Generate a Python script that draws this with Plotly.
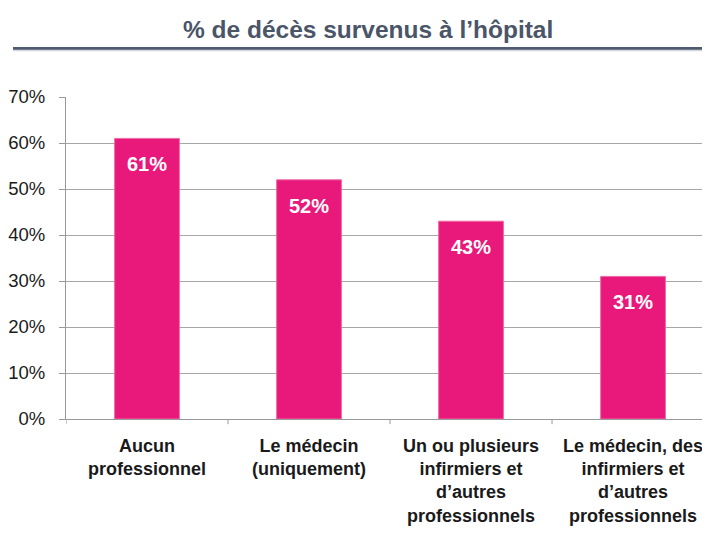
import plotly.graph_objects as go

categories = [
    "Aucun<br>professionnel",
    "Le médecin<br>(uniquement)",
    "Un ou plusieurs<br>infirmiers et<br>d’autres<br>professionnels",
    "Le médecin, des<br>infirmiers et<br>d’autres<br>professionnels",
]
values = [61, 52, 43, 31]
value_labels = ["61%", "52%", "43%", "31%"]
ytick_vals = [0, 10, 20, 30, 40, 50, 60, 70]
ytick_text = ["0%", "10%", "20%", "30%", "40%", "50%", "60%", "70%"]
title_text = "% de décès survenus à l’hôpital"

FONT = "Liberation Sans Narrow, Arial Narrow, Liberation Sans, Arial, sans-serif"
PINK = "#E8197B"

# The page body has an 8px margin; the figure is sized so it fills the window.
W, H = 702, 526

fig = go.Figure()
fig.add_trace(go.Bar(
    x=list(range(len(categories))),
    y=values,
    width=0.4,
    marker=dict(color=PINK, line=dict(width=1, color="#F06BA6")),
    hoverinfo="skip",
))

for i, (v, t) in enumerate(zip(values, value_labels)):
    fig.add_annotation(
        x=i, y=v, text="<b>" + t + "</b>", showarrow=False,
        yanchor="top", yshift=-13,
        font=dict(family=FONT, size=20, color="white"),
    )

fig.update_layout(
    width=W, height=H,
    margin=dict(l=58, r=0, t=89, b=115),
    paper_bgcolor="white", plot_bgcolor="white",
    showlegend=False,
    font=dict(family=FONT, color="#1a1a1a"),
    title=dict(
        text="<b>" + title_text + "</b>",
        x=0.513, xanchor="center", y=0.960, yanchor="middle",
        font=dict(family=FONT, size=24.5, color="#4A5568"),
    ),
)

# title underline
fig.add_shape(type="line", xref="paper", yref="paper",
              x0=-0.0823, x1=1.0, y0=1.151, y1=1.151,
              line=dict(color="#4F5B6E", width=3))
fig.add_shape(type="line", xref="paper", yref="paper",
              x0=-0.0823, x1=1.0, y0=1.1445, y1=1.1445,
              line=dict(color="#D5D8DE", width=1.5))

fig.update_xaxes(
    range=[-0.5, 3.475],
    tickmode="array",
    tickvals=list(range(len(categories))),
    ticktext=["<b>" + c + "</b>" for c in categories],
    tickfont=dict(family=FONT, size=18, color="#1a1a1a"),
    ticklabelstandoff=10,
    showgrid=False,
    showline=True, linecolor="#999999", linewidth=1,
    ticks="", zeroline=False,
)
fig.update_yaxes(
    range=[0, 70],
    tickmode="array", tickvals=ytick_vals, ticktext=ytick_text,
    tickfont=dict(family=FONT, size=18.5, color="#1a1a1a"),
    ticklabelstandoff=10,
    showgrid=True, gridcolor="#A6A6A6", gridwidth=1,
    showline=True, linecolor="#999999", linewidth=1,
    ticks="outside", ticklen=6, tickcolor="#999999",
    zeroline=False,
)

# category separator ticks on the x axis
for b in [-0.5, 0.5, 1.5, 2.5]:
    fig.add_shape(type="line", xref="x", yref="paper",
                  x0=b, x1=b, y0=0, y1=-0.016,
                  line=dict(color="#999999", width=1))

fig.write_html("out.html")
